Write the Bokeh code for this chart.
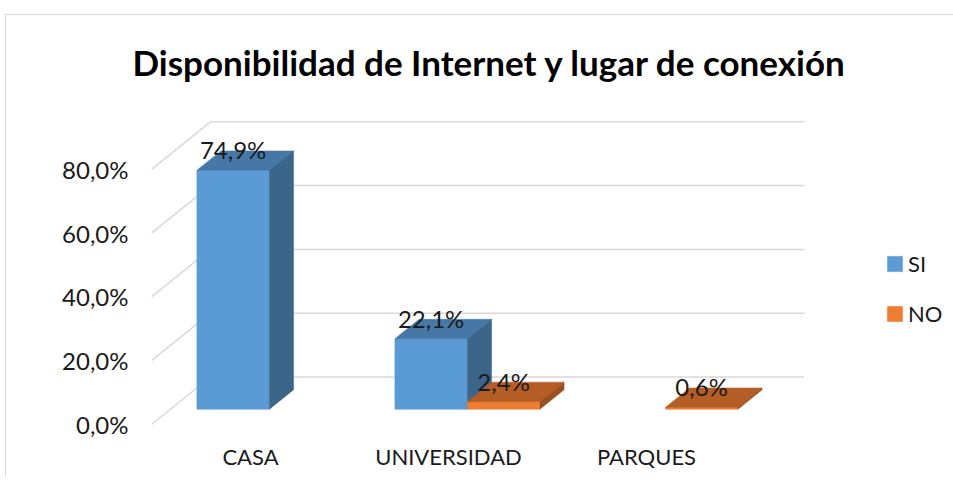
from bokeh.plotting import figure
from bokeh.models import Range1d, FixedTicker, ColumnDataSource, Legend, LegendItem
from bokeh.core.properties import value
from bokeh.embed import file_html
from bokeh.resources import INLINE

# ---------------- data ----------------
categories = ["CASA", "UNIVERSIDAD", "PARQUES"]
series_names = ["SI", "NO"]
si_values = [74.9, 22.1, None]
no_values = [None, 2.4, 0.6]
y_ticks = [0, 20, 40, 60, 80]
y_tick_labels = ["0,0%", "20,0%", "40,0%", "60,0%", "80,0%"]
title_text = "Disponibilidad de Internet y lugar de conexión"

# ---------------- styles / geometry ----------------
FONT = "Lato"
TXT = "#1a1a1a"
GRID = "#d9d9d9"
COLORS = {  # front, top, side
    "SI": ("#5b9bd5", "#4677a6", "#3b6589"),
    "NO": ("#ed7d31", "#b45d25", "#9c5020"),
}
SLOT_PX = 198.0
PCT_PX = 3.19
DEPTH_X = 59.0 / SLOT_PX      # full floor depth in x data units
DEPTH_Y = 47.5 / PCT_PX       # full floor depth in y data units
F0, F1 = 0.32, 0.73           # bar depth start / end (fraction of floor depth)
GROUP_OFF = (SLOT_PX - 145.0) / 2 / SLOT_PX
BAR_W = 72.5 / SLOT_PX

ox, oy = 5, 14                # page position of the plot element
W, H = 948, 463
frame_l, frame_r, frame_t, frame_b = 150, 945, 100, 440
zero_y = 423

p = figure(width=W, height=H, output_backend="svg", toolbar_location=None,
           x_range=Range1d(0, (frame_r - frame_l) / SLOT_PX),
           y_range=Range1d(-(frame_b - zero_y) / PCT_PX, (zero_y - frame_t) / PCT_PX),
           min_border_left=frame_l - ox, min_border_right=W - (frame_r - ox),
           min_border_top=frame_t - oy, min_border_bottom=H - (frame_b - oy))
p.margin = (oy, 0, 0, ox)
p.styles = {"border-top": "1px solid #d9d9d9", "border-left": "1px solid #d9d9d9"}
p.outline_line_color = None
p.xgrid.visible = False
p.ygrid.visible = False
p.background_fill_color = "white"
p.border_fill_color = "white"

# title
p.title.text = title_text
p.title.text_font = FONT
p.title.text_font_style = "bold"
p.title.text_font_size = "35px"
p.title.text_color = "#000000"
p.title.align = "left"
p.title.offset = -19
p.title.standoff = 38

# y axis
p.yaxis.ticker = FixedTicker(ticks=y_ticks)
p.yaxis.major_label_overrides = dict(zip(y_ticks, y_tick_labels))
p.yaxis.axis_line_color = None
p.yaxis.major_tick_line_color = None
p.yaxis.minor_tick_line_color = None
p.yaxis.major_tick_out = 0
p.yaxis.major_label_standoff = 23
p.yaxis.major_label_text_font = FONT
p.yaxis.major_label_text_font_size = "24px"
p.yaxis.major_label_text_color = TXT

# x axis
xt = [i + 0.5 for i in range(len(categories))]
p.xaxis.ticker = FixedTicker(ticks=xt)
p.xaxis.major_label_overrides = dict(zip(xt, categories))
p.xaxis.axis_line_color = None
p.xaxis.major_tick_line_color = None
p.xaxis.minor_tick_line_color = None
p.xaxis.major_tick_out = 0
p.xaxis.major_label_standoff = 1
p.xaxis.major_label_text_font = FONT
p.xaxis.major_label_text_font_size = "22px"
p.xaxis.major_label_text_color = TXT

# 3D gridlines: left wall diagonals + back wall horizontals
n = len(categories)
gx, gy = [], []
for t in y_ticks:
    gx.append([0, DEPTH_X, n + DEPTH_X])
    gy.append([t, t + DEPTH_Y, t + DEPTH_Y])
p.multi_line(gx, gy, line_color=GRID, line_width=1.5)

# bars
legend_items = []
label_x, label_y, label_t = [], [], []
for j, (name, vals) in enumerate(zip(series_names, [si_values, no_values])):
    front, top, side = COLORS[name]
    fl, fr, fb, ft = [], [], [], []
    txs, tys, sxs, sys_ = [], [], [], []
    ddx = (F1 - F0) * DEPTH_X
    ddy = (F1 - F0) * DEPTH_Y
    for i, v in enumerate(vals):
        if v is None:
            continue
        xl = i + GROUP_OFF + j * BAR_W + F0 * DEPTH_X
        xr = xl + BAR_W
        yb = F0 * DEPTH_Y
        yt = v + yb
        fl.append(xl); fr.append(xr); fb.append(yb); ft.append(yt)
        txs.append([xl, xr, xr + ddx, xl + ddx])
        tys.append([yt, yt, yt + ddy, yt + ddy])
        sxs.append([xr, xr + ddx, xr + ddx, xr])
        sys_.append([yb, yb + ddy, yt + ddy, yt])
        label_x.append((xl + xr) / 2)
        label_y.append(yt + ddy)
        label_t.append(("%.1f" % v).replace(".", ",") + "%")
    r = p.quad(left=fl, right=fr, bottom=fb, top=ft, fill_color=front, line_color=front, line_width=0.5)
    p.patches(txs, tys, fill_color=top, line_color=top, line_width=0.5)
    p.patches(sxs, sys_, fill_color=side, line_color=side, line_width=0.5)
    legend_items.append(LegendItem(label=name, renderers=[r]))

lab_src = ColumnDataSource(dict(x=label_x, y=label_y, t=label_t))
p.text(x="x", y="y", text="t", source=lab_src, text_align="center", text_baseline="alphabetic",
       text_font=value(FONT), text_font_size="24px", text_color=TXT, y_offset=-1)

legend = Legend(items=legend_items, location=(734, 114), orientation="vertical",
                glyph_width=19, glyph_height=19, label_height=19, spacing=23,
                label_standoff=4, padding=0, margin=0,
                label_text_font=FONT, label_text_font_size="22px", label_text_color=TXT,
                border_line_color=None, background_fill_alpha=0)
p.add_layout(legend)

open("out.html", "w").write(file_html(p, INLINE))
